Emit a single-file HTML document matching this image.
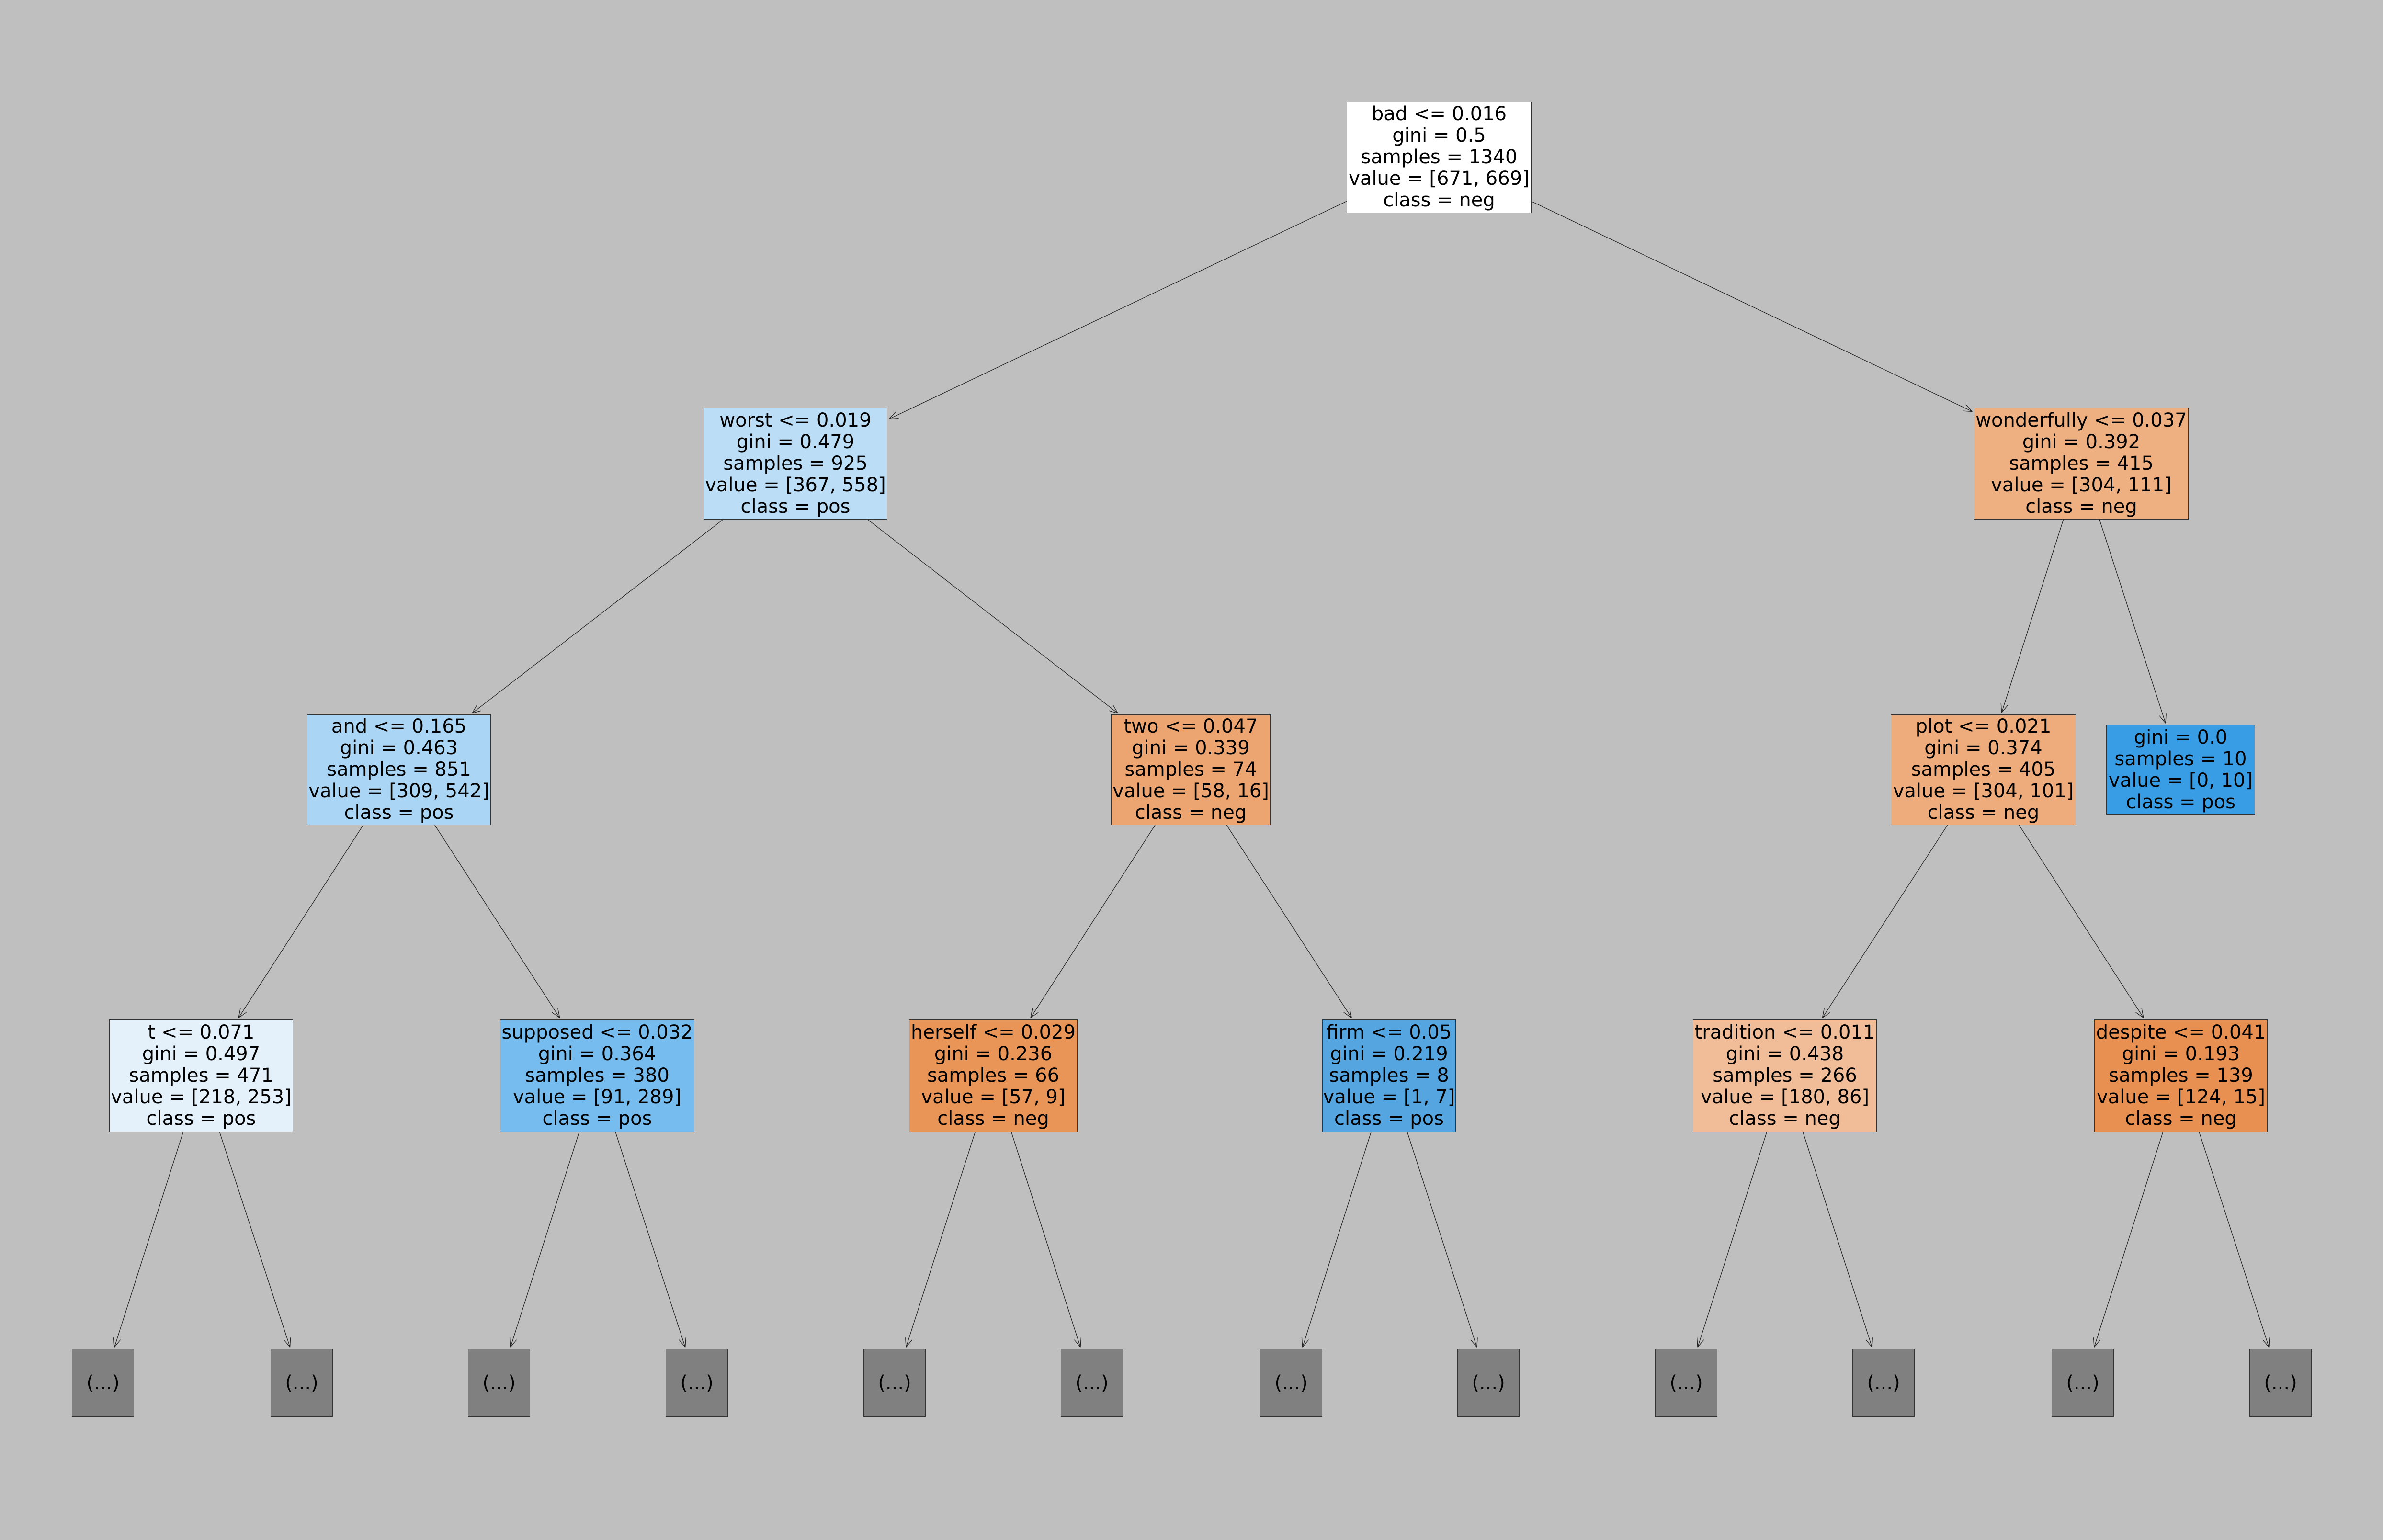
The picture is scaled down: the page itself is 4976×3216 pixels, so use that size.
<!DOCTYPE html>
<html><head><meta charset="utf-8">
<style>
html,body{margin:0;padding:0;background:#bfbfbf;}
#c{position:relative;width:4976px;height:3216px;background:#bfbfbf;overflow:hidden;font-family:"DejaVu Sans","Liberation Sans",sans-serif;}
.n{position:absolute;box-sizing:border-box;border:1.5px solid #333;display:flex;flex-direction:column;justify-content:center;align-items:center;font-size:40px;line-height:45px;color:#000;text-align:center;white-space:nowrap;}
.l{background:#808080;width:130px;height:142px;top:2817px;}
svg{position:absolute;left:0;top:0;}
</style></head><body><div id="c">
<svg id="s" width="4976" height="3216"></svg>
<div class="n" style="left:2812px;top:212px;width:386px;height:233px;background:#ffffff">bad &lt;= 0.016<br>gini = 0.5<br>samples = 1340<br>value = [671, 669]<br>class = neg</div>
<div class="n" style="left:1469px;top:851px;width:384px;height:234px;background:#bbddf6">worst &lt;= 0.019<br>gini = 0.479<br>samples = 925<br>value = [367, 558]<br>class = pos</div>
<div class="n" style="left:4122px;top:851px;width:448px;height:234px;background:#eeaf81">wonderfully &lt;= 0.037<br>gini = 0.392<br>samples = 415<br>value = [304, 111]<br>class = neg</div>
<div class="n" style="left:641px;top:1492px;width:384px;height:231px;background:#aad5f4">and &lt;= 0.165<br>gini = 0.463<br>samples = 851<br>value = [309, 542]<br>class = pos</div>
<div class="n" style="left:2320px;top:1492px;width:333px;height:231px;background:#eca470">two &lt;= 0.047<br>gini = 0.339<br>samples = 74<br>value = [58, 16]<br>class = neg</div>
<div class="n" style="left:3948px;top:1492px;width:387px;height:231px;background:#eeab7b">plot &lt;= 0.021<br>gini = 0.374<br>samples = 405<br>value = [304, 101]<br>class = neg</div>
<div class="n" style="left:4398px;top:1514px;width:311px;height:187px;background:#399de5">gini = 0.0<br>samples = 10<br>value = [0, 10]<br>class = pos</div>
<div class="n" style="left:228px;top:2129px;width:384px;height:235px;background:#e4f1fb">t &lt;= 0.071<br>gini = 0.497<br>samples = 471<br>value = [218, 253]<br>class = pos</div>
<div class="n" style="left:1044px;top:2129px;width:406px;height:235px;background:#77bcee">supposed &lt;= 0.032<br>gini = 0.364<br>samples = 380<br>value = [91, 289]<br>class = pos</div>
<div class="n" style="left:1898px;top:2129px;width:352px;height:235px;background:#e99558">herself &lt;= 0.029<br>gini = 0.236<br>samples = 66<br>value = [57, 9]<br>class = neg</div>
<div class="n" style="left:2761px;top:2129px;width:279px;height:235px;background:#55a5e1">firm &lt;= 0.05<br>gini = 0.219<br>samples = 8<br>value = [1, 7]<br>class = pos</div>
<div class="n" style="left:3535px;top:2129px;width:384px;height:235px;background:#f1bd98">tradition &lt;= 0.011<br>gini = 0.438<br>samples = 266<br>value = [180, 86]<br>class = neg</div>
<div class="n" style="left:4373px;top:2129px;width:362px;height:235px;background:#e89051">despite &lt;= 0.041<br>gini = 0.193<br>samples = 139<br>value = [124, 15]<br>class = neg</div>
<div class="n l" style="left:150px">(...)</div>
<div class="n l" style="left:565px">(...)</div>
<div class="n l" style="left:977px">(...)</div>
<div class="n l" style="left:1390px">(...)</div>
<div class="n l" style="left:1803px">(...)</div>
<div class="n l" style="left:2215px">(...)</div>
<div class="n l" style="left:2631px">(...)</div>
<div class="n l" style="left:3043px">(...)</div>
<div class="n l" style="left:3456px">(...)</div>
<div class="n l" style="left:3868px">(...)</div>
<div class="n l" style="left:4284px">(...)</div>
<div class="n l" style="left:4697px">(...)</div>
</div>
<script>
var B={r:[2812,212,386,233],w:[1469,851,384,234],wo:[4122,851,448,234],a:[641,1492,384,231],tw:[2320,1492,333,231],p:[3948,1492,387,231],g:[4398,1514,311,187],
t:[228,2129,384,235],su:[1044,2129,406,235],h:[1898,2129,352,235],f:[2761,2129,279,235],tr:[3535,2129,384,235],d:[4373,2129,362,235]};
var lx=[150,565,977,1390,1803,2215,2631,3043,3456,3868,4284,4697];
lx.forEach(function(x,i){B['L'+i]=[x,2817,130,142];});
var E=[['r','w'],['r','wo'],['w','a'],['w','tw'],['wo','p'],['wo','g'],['a','t'],['a','su'],['tw','h'],['tw','f'],['p','tr'],['p','d'],
['t','L0'],['t','L1'],['su','L2'],['su','L3'],['h','L4'],['h','L5'],['f','L6'],['f','L7'],['tr','L8'],['tr','L9'],['d','L10'],['d','L11']];
function clip(b,cx,cy,dx,dy){var hw=b[2]/2,hh=b[3]/2;var t=Math.min(dx?hw/Math.abs(dx):1e9,dy?hh/Math.abs(dy):1e9);return [cx+dx*t,cy+dy*t];}
var s='';
E.forEach(function(e){var A=B[e[0]],C=B[e[1]];
var ax=A[0]+A[2]/2,ay=A[1]+A[3]/2,cx=C[0]+C[2]/2,cy=C[1]+C[3]/2;
var dx=cx-ax,dy=cy-ay;
var p=clip(A,ax,ay,dx,dy),q=clip(C,cx,cy,-dx,-dy);
var L=Math.hypot(dx,dy),ux=dx/L,uy=dy/L;q=[q[0]-ux*4,q[1]-uy*4];
s+='<line x1="'+p[0]+'" y1="'+p[1]+'" x2="'+q[0]+'" y2="'+q[1]+'" stroke="#222" stroke-width="1.3"/>';
var ang=Math.atan2(dy,dx),hl=20,ha=0.38;
[ang+Math.PI-ha,ang+Math.PI+ha].forEach(function(a){s+='<line x1="'+q[0]+'" y1="'+q[1]+'" x2="'+(q[0]+hl*Math.cos(a))+'" y2="'+(q[1]+hl*Math.sin(a))+'" stroke="#222" stroke-width="1.3"/>';});
});
document.getElementById('s').innerHTML=s;
</script>
</body></html>
